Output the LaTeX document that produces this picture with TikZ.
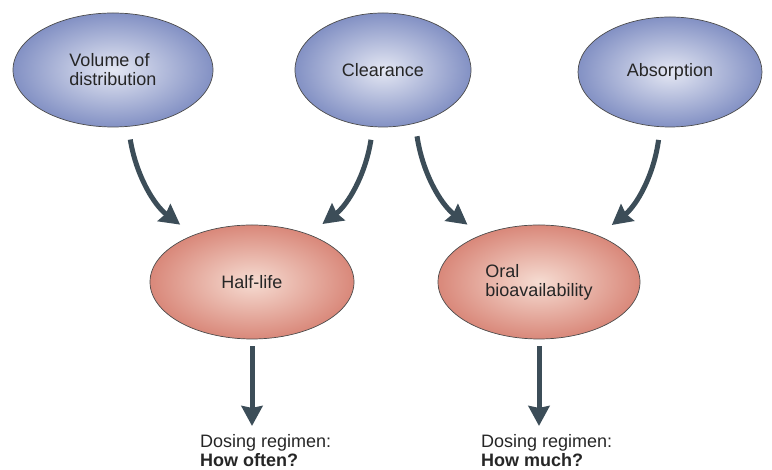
\documentclass[tikz,border=0pt]{standalone}
\usepackage{fontspec}
\setmainfont{Liberation Sans}
\usepackage{tikz}
\usetikzlibrary{shapes.geometric,arrows.meta}

\definecolor{bluein}{HTML}{E4E7F3}
\definecolor{blueout}{HTML}{8391C4}
\definecolor{redin}{HTML}{F6DCD2}
\definecolor{redout}{HTML}{D9887A}
\definecolor{arrowcol}{HTML}{3C4D58}

\begin{document}
\begin{tikzpicture}[x=1pt,y=1pt,
  every node/.style={font=\fontsize{18}{19}\selectfont, text=black!85},
  blueball/.style={ellipse, draw=black!70, line width=0.7pt, inner sep=0pt, align=left, shading=radial, inner color=bluein, outer color=blueout},
  redball/.style={ellipse, draw=black!70, line width=0.7pt, inner sep=0pt, align=left, shading=radial, inner color=redin, outer color=redout},
  flow/.style={draw=arrowcol, line width=5pt, -{Stealth[length=20pt,width=21pt,inset=2pt]}}]
\useasboundingbox (0,0) rectangle (772,470);

% top row
\node[blueball, minimum width=200, minimum height=114] (vol) at (113,400) {Volume of\\distribution};
\node[blueball, minimum width=176, minimum height=114] (clear) at (383,400) {Clearance};
\node[blueball, minimum width=184, minimum height=110] (absorb) at (670,398) {Absorption};

% middle row
\node[redball, minimum width=204, minimum height=114] (half) at (252,188) {Half-life};
\node[redball, minimum width=202, minimum height=114] (oral) at (539,188) {Oral\\bioavailability};

% dosing texts
\node[anchor=north west, inner sep=0pt, align=left] (often) at (200,36) {Dosing regimen:\\\textbf{How often?}};
\node[anchor=north west, inner sep=0pt, align=left] (much) at (481,36) {Dosing regimen:\\\textbf{How much?}};

% arrows
\draw[flow, shorten <=13pt, shorten >=17pt] (vol.-75) to[bend right=22] (half.141);
\draw[flow, shorten <=13pt, shorten >=17pt] (clear.-100) to[bend left=22] (half.40);
\draw[flow, shorten <=13pt, shorten >=17pt] (clear.-59) to[bend right=22] (oral.141);
\draw[flow, shorten <=13pt, shorten >=17pt] (absorb.-100) to[bend left=22] (oral.38);

\draw[flow, shorten <=7pt, shorten >=8pt] (half.south) -- (half.south |- often.north);
\draw[flow, shorten <=7pt, shorten >=8pt] (oral.south) -- (oral.south |- much.north);
\end{tikzpicture}
\end{document}
